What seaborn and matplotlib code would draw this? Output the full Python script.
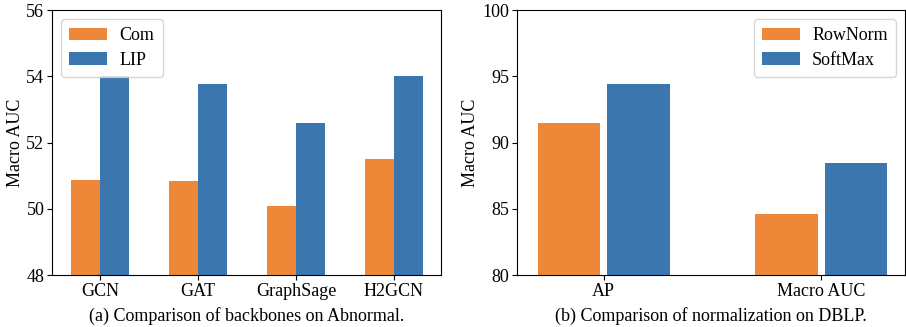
import numpy as np
import pandas as pd
import matplotlib
matplotlib.use("Agg")
import matplotlib.pyplot as plt
import seaborn as sns

# 数据 (a): 不同 backbone 在 Abnormal 上的 Macro AUC
backbones = ["GCN", "GAT", "GraphSage", "H2GCN"]
com_auc = [50.87, 50.84, 50.08, 51.49]
lip_auc = [54.00, 53.77, 52.59, 54.01]

# 数据 (b): 不同归一化在 DBLP 上的结果
metrics = ["AP", "Macro AUC"]
rownorm_vals = [91.47, 84.60]
softmax_vals = [94.42, 88.45]

orange = "#EE8838"
blue = "#3C76AE"

plt.rcParams['font.family'] = ['Liberation Serif', 'DejaVu Serif']
plt.rcParams['mathtext.fontset'] = 'stix'

df_a = pd.DataFrame({
    "backbone": backbones * 2,
    "auc": com_auc + lip_auc,
    "method": ["Com"] * len(backbones) + ["LIP"] * len(backbones),
})
df_b = pd.DataFrame({
    "metric": metrics * 2,
    "value": rownorm_vals + softmax_vals,
    "norm": ["RowNorm"] * len(metrics) + ["SoftMax"] * len(metrics),
})

fig = plt.figure(figsize=(9.06, 3.27), dpi=100)
ax1 = fig.add_axes([0.0574, 0.159, 0.4294, 0.8104])
ax2 = fig.add_axes([0.5703, 0.159, 0.4286, 0.8104])

fs = 13
leg_kw = dict(fontsize=13, handlelength=2.1, handletextpad=0.7,
              borderpad=0.45, labelspacing=0.43)

# 子图 (a)
sns.barplot(data=df_a, x="backbone", y="auc", hue="method", ax=ax1,
            palette=[orange, blue], saturation=1, width=0.6, gap=0.03,
            edgecolor="none", linewidth=0)
ax1.set_ylim(48, 56)
ax1.set_yticks([48, 50, 52, 54, 56])
ax1.set_xlim(-0.49, 3.48)
ax1.set_ylabel("Macro AUC", fontsize=fs, labelpad=2)
ax1.set_xlabel("(a) Comparison of backbones on Abnormal.", fontsize=fs, labelpad=5)
ax1.tick_params(labelsize=fs, pad=2)
ax1.legend(loc="upper left", **leg_kw)

# 子图 (b)
sns.barplot(data=df_b, x="metric", y="value", hue="norm", ax=ax2,
            palette=[orange, blue], saturation=1, width=0.64, gap=0.1,
            edgecolor="none", linewidth=0)
ax2.set_ylim(80, 100)
ax2.set_yticks([80, 85, 90, 95, 100])
ax2.set_xlim(-0.4, 1.386)
ax2.set_ylabel("Macro AUC", fontsize=fs, labelpad=2)
ax2.set_xlabel("(b) Comparison of normalization on DBLP.", fontsize=fs, labelpad=5)
ax2.tick_params(labelsize=fs, pad=2)
ax2.legend(loc="upper right", **leg_kw)

fig.savefig("out.png", dpi=100)
